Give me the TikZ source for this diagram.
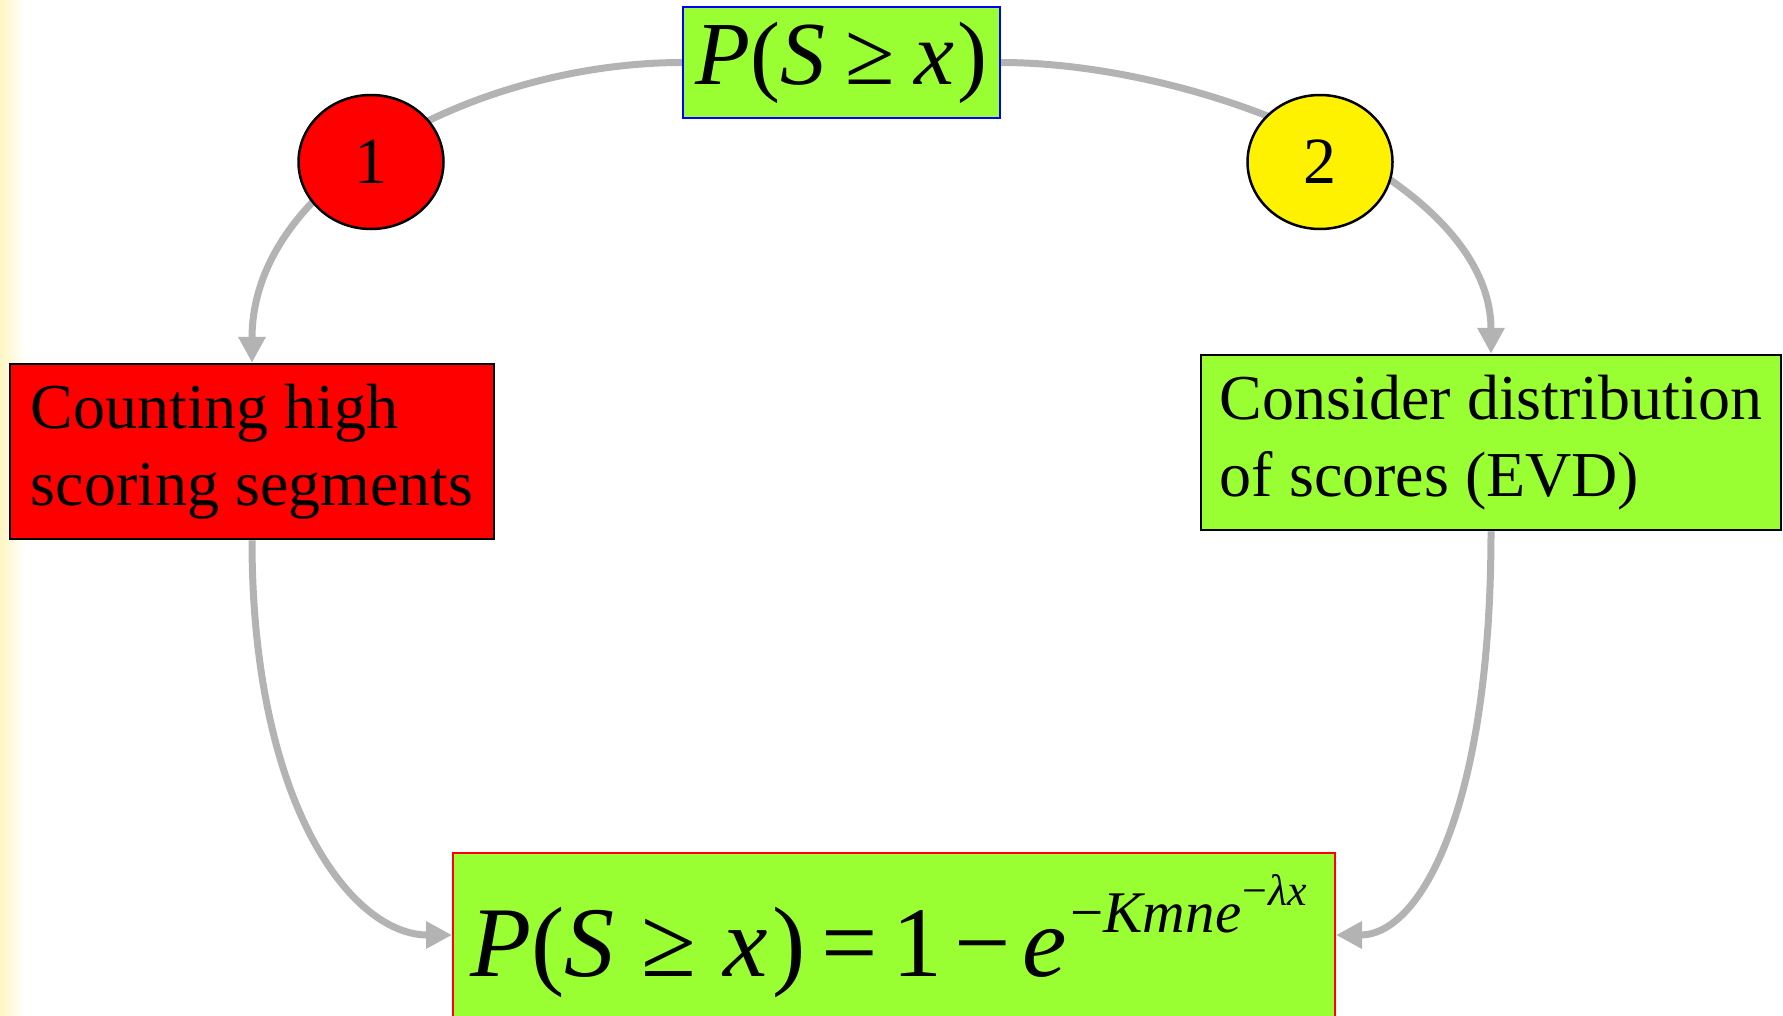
\documentclass[tikz,border=0pt]{standalone}
\usepackage{fontspec}
\setmainfont{Liberation Serif}
\usetikzlibrary{arrows.meta,shapes.geometric}
\definecolor{lime}{HTML}{99FF33}
\definecolor{flow}{HTML}{B3B3B3}
\definecolor{paperedge}{HTML}{FFF6C4}
\pgfdeclarelayer{paper}
\pgfdeclarelayer{links}
\pgfsetlayers{paper,links,main}

\begin{document}
\begin{tikzpicture}[x=1pt,y=-1pt,
  box/.style={draw, line width=2.5pt, rectangle, inner sep=0pt, align=left,
    font=\fontsize{64}{77}\selectfont},
  badge/.style={draw, line width=2.5pt, ellipse, minimum width=145pt,
    minimum height=134pt, inner sep=0pt, font=\fontsize{66}{66}\selectfont},
  flowline/.style={draw=flow, line width=7pt,
    -{Triangle[length=26pt,width=26pt]}}]
  \useasboundingbox (0,0) rectangle (1783,1015);

  % page with a soft yellow left edge
  \begin{pgfonlayer}{paper}
    \fill[white] (0,0) rectangle (1783,1015);
    \fill[left color=paperedge, right color=white] (0,0) rectangle (26,1015);
  \end{pgfonlayer}

  % question and the two approaches
  \node[box, fill=lime, draw=blue, line width=2pt, minimum width=317pt,
    minimum height=111pt, font=\fontsize{90}{90}\selectfont] (top) at (841.5,62.5)
    {\textit{P}(\textit{S}\hspace{0.22em}≥\hspace{0.22em}\textit{x}\hspace{0.04em})};

  \node[badge, fill=red] (one) at (371,162) {1};
  \node[badge, fill=yellow] (two) at (1320,162) {2};

  \node[box, fill=red, minimum width=484pt, minimum height=175pt] (left) at (252,451.5)
    {Counting high\\scoring segments};
  \node[box, fill=lime, minimum width=580pt, minimum height=175pt] (right) at (1491,442.5)
    {Consider distribution\\of scores (EVD)};

  % result
  \node[box, fill=lime, draw=red, line width=2pt, minimum width=882pt,
    minimum height=187pt] (bottom) at (894,946.5) {};
  \node[anchor=base west, inner sep=0pt, font=\fontsize{100}{100}\selectfont] (eq) at (470,976)
    {\textit{P}(\textit{S}\hspace{0.27em}≥\hspace{0.27em}\textit{x}\hspace{0.05em})\hspace{0.15em}=\hspace{0.15em}1\hspace{0.12em}−\hspace{0.12em}\textit{e}\raisebox{0.44em}{\fontsize{59}{59}\selectfont\hspace{0.05em}−\textit{Kmne}\raisebox{0.45em}{\fontsize{44}{44}\selectfont\hspace{0.03em}−\hspace{0.03em}\textit{λx}}}};

  % connectors
  \begin{pgfonlayer}{links}
    \draw[flowline] (top.west) .. controls +(-200,0) and +(0,-185) .. (left.north);
    \draw[flowline] (top.east) .. controls +(200,0) and +(0,-175) .. (right.north);
    \draw[flowline] (left.south) .. controls +(0,265) and +(-100,0) .. ([yshift=11.5pt]bottom.west);
    \draw[flowline] (right.south) .. controls +(0,275) and +(85,0) .. ([yshift=11.5pt]bottom.east);
  \end{pgfonlayer}
\end{tikzpicture}
\end{document}
